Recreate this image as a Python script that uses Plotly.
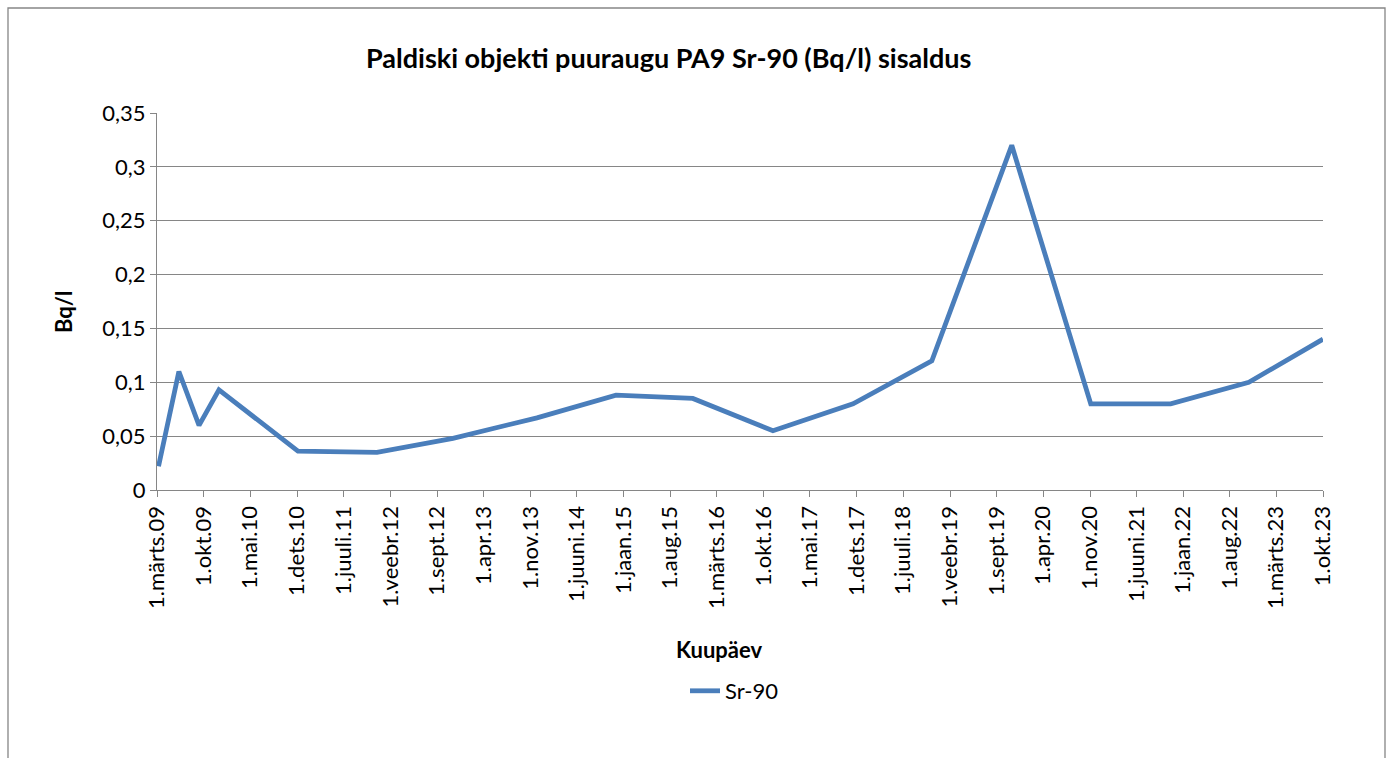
import plotly.graph_objects as go

# ---- data ----
dates = ["2009-03-08", "2009-06-09", "2009-09-09", "2009-12-09", "2010-12-05",
         "2011-12-01", "2012-11-12", "2013-12-01", "2014-11-27", "2015-11-13",
         "2016-11-13", "2017-11-14", "2018-11-09", "2019-11-09", "2020-11-04",
         "2021-11-04", "2022-10-27", "2023-10-01"]
sr90 = [0.022, 0.110, 0.060, 0.093, 0.036, 0.035, 0.048, 0.067, 0.088, 0.085,
        0.055, 0.080, 0.120, 0.320, 0.080, 0.080, 0.100, 0.140]

x_tick_vals = ["2009-03-01", "2009-10-01", "2010-05-01", "2010-12-01", "2011-07-01",
               "2012-02-01", "2012-09-01", "2013-04-01", "2013-11-01", "2014-06-01",
               "2015-01-01", "2015-08-01", "2016-03-01", "2016-10-01", "2017-05-01",
               "2017-12-01", "2018-07-01", "2019-02-01", "2019-09-01", "2020-04-01",
               "2020-11-01", "2021-06-01", "2022-01-01", "2022-08-01", "2023-03-01",
               "2023-10-01"]
x_tick_text = ["1.märts.09", "1.okt.09", "1.mai.10", "1.dets.10", "1.juuli.11",
               "1.veebr.12", "1.sept.12", "1.apr.13", "1.nov.13", "1.juuni.14",
               "1.jaan.15", "1.aug.15", "1.märts.16", "1.okt.16", "1.mai.17",
               "1.dets.17", "1.juuli.18", "1.veebr.19", "1.sept.19", "1.apr.20",
               "1.nov.20", "1.juuni.21", "1.jaan.22", "1.aug.22", "1.märts.23",
               "1.okt.23"]
y_tick_vals = [0, 0.05, 0.1, 0.15, 0.2, 0.25, 0.3, 0.35]
y_tick_text = ["0", "0,05", "0,1", "0,15", "0,2", "0,25", "0,3", "0,35"]

title_text = "Paldiski objekti puuraugu PA9 Sr-90 (Bq/l) sisaldus"
x_title = "Kuupäev"
y_title = "Bq/l"
series_name = "Sr-90"

FONT = "Lato"
GRID = "#868686"
W, H = 1392, 758
L, R, T, B = 157, 1323, 113, 490


def px(x):
    return (x - L) / (R - L)


def py(y):
    return (B - y) / (B - T)


fig = go.Figure()
fig.add_trace(go.Scatter(
    x=dates, y=sr90, mode="lines", name=series_name,
    line=dict(color="#4A7EBB", width=4.8),
))

fig.update_layout(
    width=W, height=H,
    margin=dict(l=L, r=W - R, t=T, b=H - B),
    paper_bgcolor="white", plot_bgcolor="white",
    font=dict(family=FONT, color="black", size=22),
    showlegend=True,
    legend=dict(orientation="h", x=px(685), y=py(691), xanchor="left", yanchor="middle",
                font=dict(size=22, family=FONT), bgcolor="rgba(0,0,0,0)"),
    xaxis=dict(
        type="date", range=["2009-03-01", "2023-10-01"],
        tickmode="array", tickvals=x_tick_vals, ticktext=x_tick_text,
        tickangle=-90, ticks="outside", ticklen=6, tickcolor=GRID, tickwidth=1.3,
        showline=True, linecolor=GRID, linewidth=1.3,
        showgrid=False, zeroline=False,
        tickfont=dict(size=22, family=FONT),
    ),
    yaxis=dict(
        range=[0, 0.35], tickmode="array", tickvals=y_tick_vals, ticktext=y_tick_text,
        ticks="outside", ticklen=6, tickcolor=GRID, tickwidth=1.3,
        showline=True, linecolor=GRID, linewidth=1.3,
        showgrid=True, gridcolor=GRID, gridwidth=1.3, zeroline=False,
        tickfont=dict(size=22, family=FONT),
    ),
    shapes=[dict(type="rect", xref="paper", yref="paper",
                 x0=px(8), x1=px(1385), y0=py(775), y1=py(8),
                 line=dict(color=GRID, width=1.3), fillcolor="rgba(0,0,0,0)",
                 layer="below")],
    annotations=[
        dict(text="<b>" + title_text + "</b>", xref="paper", yref="paper",
             x=px(668), y=py(58), showarrow=False, xanchor="center", yanchor="middle",
             font=dict(size=27, family=FONT)),
        dict(text="<b>" + x_title + "</b>", xref="paper", yref="paper",
             x=px(719), y=py(649), showarrow=False, xanchor="center", yanchor="middle",
             font=dict(size=22, family=FONT)),
        dict(text="<b>" + y_title + "</b>", xref="paper", yref="paper",
             x=px(63), y=py(312), showarrow=False, xanchor="center", yanchor="middle",
             textangle=-90, font=dict(size=22, family=FONT)),
    ],
)

fig.write_html(
    "out.html",
    config={"displayModeBar": False},
    post_script="document.body.style.margin='0';document.body.style.overflow='hidden';",
)
